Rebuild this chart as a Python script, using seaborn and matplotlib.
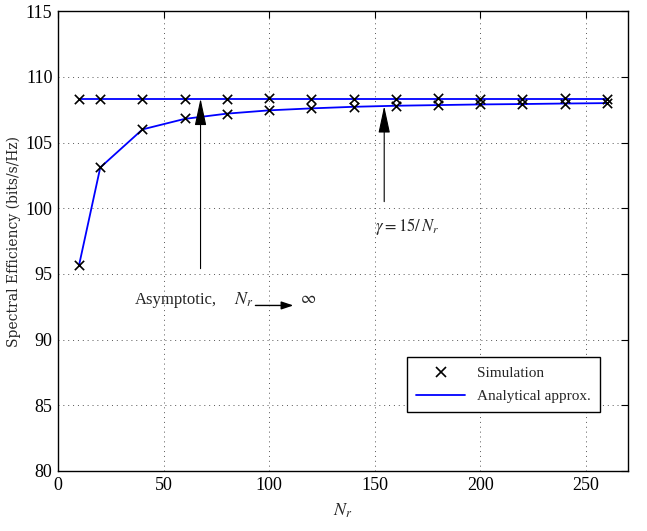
import numpy as np
import pandas as pd
import matplotlib
matplotlib.use("Agg")
import matplotlib.pyplot as plt
import seaborn as sns
from matplotlib.lines import Line2D

# ---- data ----
nr = [10, 20, 40, 60, 80, 100, 120, 140, 160, 180, 200, 220, 240, 260]
analytical = [95.7, 103.1, 106.0, 106.8, 107.2, 107.45, 107.6, 107.72, 107.8, 107.85, 107.9, 107.93, 107.97, 108.0]
sim_finite = [95.7, 103.1, 106.0, 106.85, 107.2, 107.45, 107.6, 107.7, 107.8, 107.85, 107.9, 107.95, 107.97, 108.0]
asymptotic = [108.35] * len(nr)
sim_asym = [108.35, 108.35, 108.35, 108.35, 108.35, 108.38, 108.35, 108.35, 108.35, 108.36, 108.35, 108.35, 108.36, 108.35]
xticks = [0, 50, 100, 150, 200, 250]
yticks = [80, 85, 90, 95, 100, 105, 110, 115]

sns.set_theme(style="white")
plt.rcParams['font.family'] = ['Liberation Serif', 'DejaVu Serif']
plt.rcParams['mathtext.fontset'] = 'stix'

fig = plt.figure(figsize=(6.47, 5.31), dpi=100)
ax = fig.add_axes([0.0897, 0.113, 0.881, 0.866])

df = pd.DataFrame({"Nr": nr, "ana": analytical, "asym": asymptotic,
                   "sim1": sim_finite, "sim2": sim_asym})

sns.lineplot(data=df, x="Nr", y="asym", ax=ax, color="#0000ff", lw=1.3, legend=False)
sns.lineplot(data=df, x="Nr", y="ana", ax=ax, color="#0000ff", lw=1.3, legend=False)
sns.scatterplot(data=df, x="Nr", y="sim2", ax=ax, marker="x", color="black", s=45,
                linewidth=1.2, legend=False, zorder=5)
sns.scatterplot(data=df, x="Nr", y="sim1", ax=ax, marker="x", color="black", s=45,
                linewidth=1.2, legend=False, zorder=5)

ax.set_xlim(0, 270)
ax.set_ylim(80, 115)
ax.set_xticks(xticks)
ax.set_yticks(yticks)
ax.tick_params(direction="in", top=True, right=True, length=5, width=0.8,
               labelsize=13, colors="black", pad=4)
for s in ax.spines.values():
    s.set_color("black")
    s.set_linewidth(1.0)
ax.grid(True, color="#555555", linestyle=(0, (1, 4)), linewidth=0.7)

ax.set_xlabel(r"$N_r$", fontsize=13, labelpad=6)
ax.set_ylabel("Spectral Efficiency (bits/s/Hz)", fontsize=10, family="DejaVu Serif", labelpad=3)

# annotations
ax.annotate("", xy=(67.5, 108.35), xytext=(67.5, 95.4),
            arrowprops=dict(arrowstyle="-|>,head_length=1.4,head_width=0.3",
                            color="black", lw=0.8, shrinkA=0, shrinkB=0))
ax.annotate("", xy=(154.5, 107.78), xytext=(154.5, 100.5),
            arrowprops=dict(arrowstyle="-|>,head_length=1.4,head_width=0.3",
                            color="black", lw=0.8, shrinkA=0, shrinkB=0))
ax.text(36.5, 93.0, "Asymptotic,", fontsize=12, va="center", ha="left")
ax.text(83.5, 93.0, r"$N_r$", fontsize=13, va="center", ha="left")
ax.annotate("", xy=(111.5, 92.6), xytext=(93.5, 92.6),
            arrowprops=dict(arrowstyle="-|>,head_length=0.6,head_width=0.2",
                            color="black", lw=1.0, shrinkA=0, shrinkB=0))
ax.text(114.5, 93.1, r"$\infty$", fontsize=12, va="center", ha="left")
ax.text(150.0, 98.6, r"$\gamma = 15/\,N_r$", fontsize=12, va="center", ha="left")

handles = [Line2D([], [], marker="x", color="black", linestyle="none", markersize=7, mew=1.2),
           Line2D([], [], color="#0000ff", lw=1.3)]
leg = ax.legend(handles, ["Simulation", "Analytical approx."], loc="lower right",
                bbox_to_anchor=(0.951, 0.128), fontsize=11, frameon=True, fancybox=False,
                borderaxespad=0, handlelength=3.2, borderpad=0.6, labelspacing=0.6)
leg.get_frame().set_edgecolor("black")
leg.get_frame().set_linewidth(1.0)
leg.get_frame().set_alpha(1)

fig.savefig("out.png", dpi=100)
